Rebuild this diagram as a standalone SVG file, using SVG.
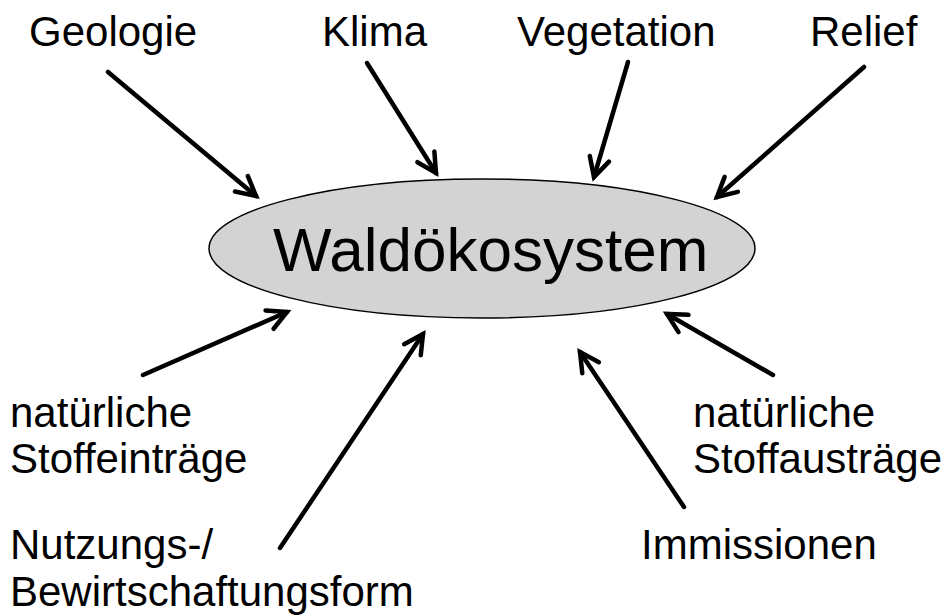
<svg xmlns="http://www.w3.org/2000/svg" width="952" height="615" viewBox="0 0 952 615">
<style>
text{font-family:"Liberation Sans",Arial,sans-serif;fill:#000}
.lbl{font-size:42px}
.arr{stroke:#000;stroke-width:4.5;fill:none;stroke-linecap:round;marker-end:url(#head)}
</style>
<defs>
<marker id="head" markerUnits="userSpaceOnUse" markerWidth="40" markerHeight="40" refX="0" refY="0" orient="auto" overflow="visible">
<path d="M -19 -10 L 0 0 L -19 10" fill="none" stroke="#000" stroke-width="4.5" stroke-linecap="round" stroke-linejoin="miter"/>
</marker>
</defs>
<rect width="952" height="615" fill="#fff"/>
<g id="center">
<ellipse cx="482" cy="248.5" rx="273" ry="69.5" fill="#d3d3d3" stroke="#000" stroke-width="1.5"/>
<text x="273" y="271" font-size="62">Waldökosystem</text>
</g>
<g id="geologie"><text class="lbl" x="29" y="46">Geologie</text></g>
<g id="klima"><text class="lbl" x="322" y="46">Klima</text></g>
<g id="vegetation"><text class="lbl" x="517" y="46">Vegetation</text></g>
<g id="relief"><text class="lbl" x="810" y="46">Relief</text></g>
<g id="eintraege"><text class="lbl" x="10" y="427">natürliche</text><text class="lbl" x="10" y="473">Stoffeinträge</text></g>
<g id="nutzung"><text class="lbl" x="10" y="559">Nutzungs-/</text><text class="lbl" x="10" y="606">Bewirtschaftungsform</text></g>
<g id="austraege"><text class="lbl" x="693" y="427">natürliche</text><text class="lbl" x="693" y="473">Stoffausträge</text></g>
<g id="immissionen"><text class="lbl" x="641" y="559">Immissionen</text></g>
<g id="connectors">
<line class="arr" x1="108" y1="72" x2="256" y2="196"/>
<line class="arr" x1="367" y1="63" x2="436" y2="173"/>
<line class="arr" x1="628" y1="62" x2="594" y2="177"/>
<line class="arr" x1="864" y1="67" x2="717" y2="197"/>
<line class="arr" x1="143" y1="375" x2="287" y2="312"/>
<line class="arr" x1="280" y1="548" x2="423" y2="334"/>
<line class="arr" x1="684" y1="507" x2="580" y2="352"/>
<line class="arr" x1="773" y1="375" x2="667" y2="314"/>
</g>
</svg>
